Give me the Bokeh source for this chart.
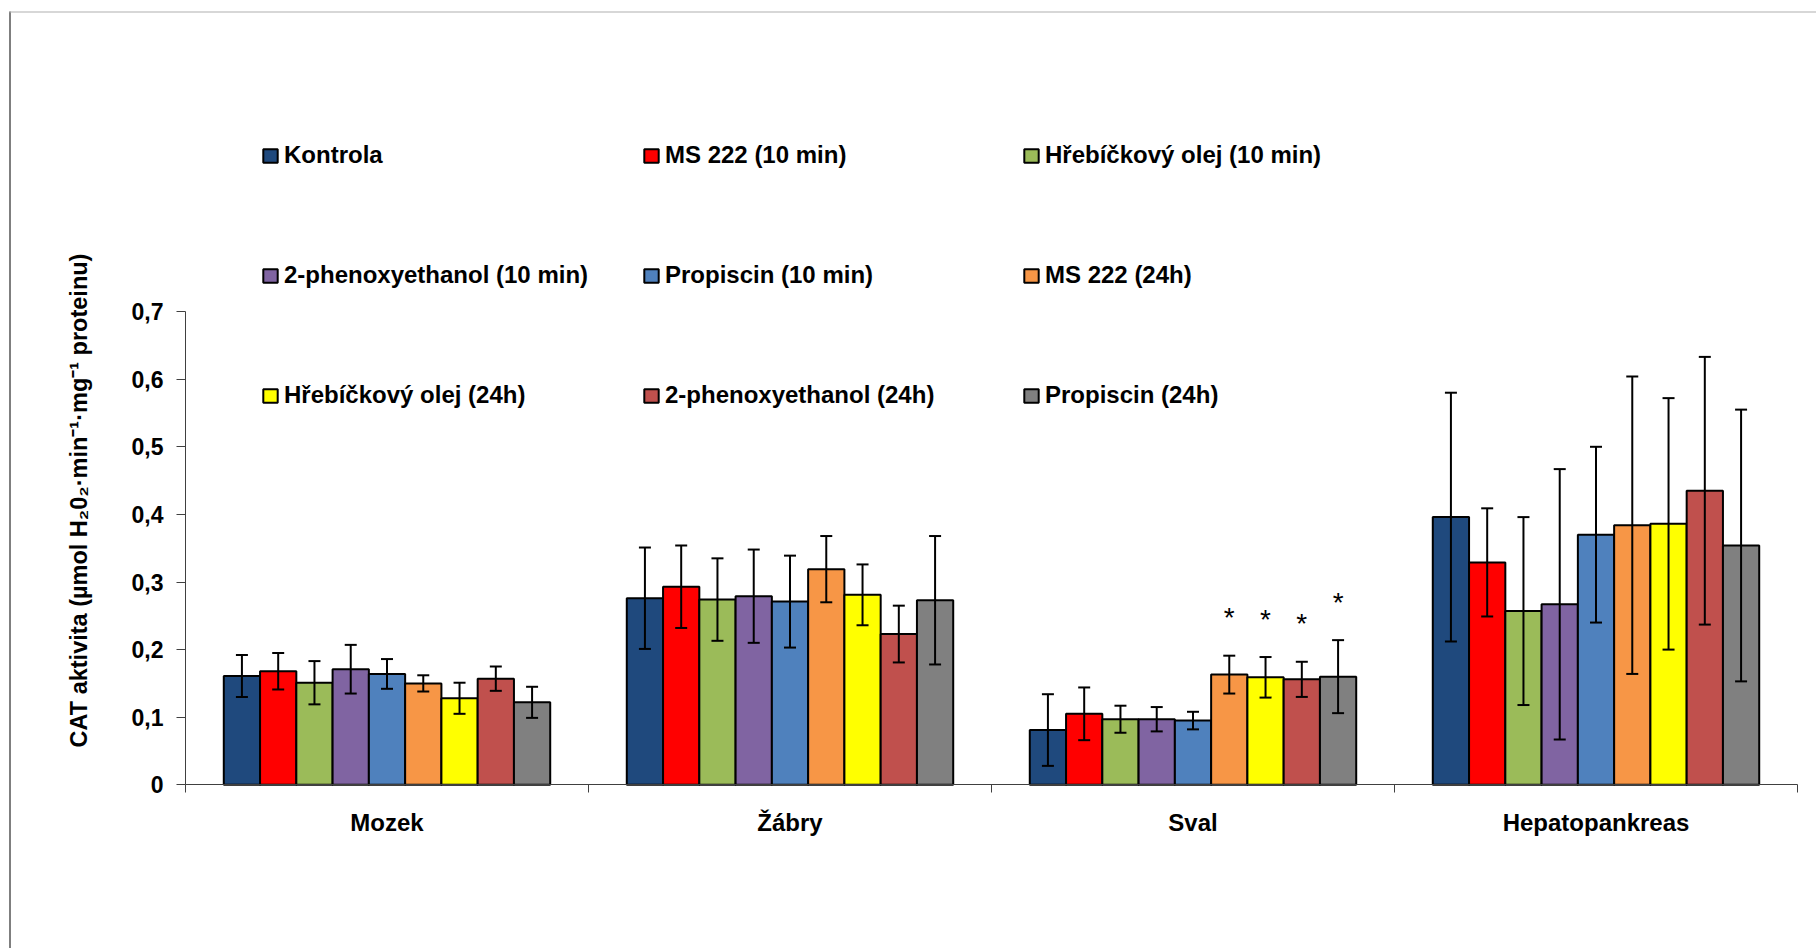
import math
from bokeh.plotting import figure
from bokeh.models import (ColumnDataSource, Range1d, FixedTicker, Whisker, TeeHead,
                          Legend, LegendItem, Label, BoxAnnotation)
from bokeh.transform import dodge
from bokeh.core.properties import value
from bokeh.embed import file_html
from bokeh.resources import INLINE

# ---------------- data ----------------
categories = ["Mozek", "Žábry", "Sval", "Hepatopankreas"]
series_names = ["Kontrola", "MS 222 (10 min)", "Hřebíčkový olej (10 min)",
                "2-phenoxyethanol (10 min)", "Propiscin (10 min)", "MS 222 (24h)",
                "Hřebíčkový olej (24h)", "2-phenoxyethanol (24h)", "Propiscin (24h)"]
series_colors = ["#1F497D", "#FF0000", "#9BBB59", "#8064A2", "#4F81BD",
                 "#F79646", "#FFFF00", "#C0504D", "#808080"]

kontrola = [0.161, 0.276, 0.081, 0.396]
ms222_10 = [0.168, 0.293, 0.105, 0.329]
hreb_10 = [0.151, 0.274, 0.097, 0.257]
phen_10 = [0.171, 0.279, 0.097, 0.267]
prop_10 = [0.164, 0.271, 0.095, 0.370]
ms222_24 = [0.150, 0.319, 0.163, 0.384]
hreb_24 = [0.128, 0.281, 0.159, 0.386]
phen_24 = [0.157, 0.223, 0.156, 0.435]
prop_24 = [0.122, 0.273, 0.160, 0.354]

kontrola_err = [0.031, 0.075, 0.053, 0.184]
ms222_10_err = [0.027, 0.061, 0.039, 0.080]
hreb_10_err = [0.032, 0.061, 0.020, 0.139]
phen_10_err = [0.036, 0.069, 0.018, 0.200]
prop_10_err = [0.022, 0.068, 0.013, 0.130]
ms222_24_err = [0.012, 0.049, 0.028, 0.220]
hreb_24_err = [0.023, 0.045, 0.030, 0.186]
phen_24_err = [0.018, 0.042, 0.026, 0.198]
prop_24_err = [0.023, 0.095, 0.054, 0.201]

# significance marks (per series) for category "Sval"
sval_marks = ["", "", "", "", "", "*", "*", "*", "*"]

y_ticks = [0, 0.1, 0.2, 0.3, 0.4, 0.5, 0.6, 0.7]
y_tick_labels = ["0", "0,1", "0,2", "0,3", "0,4", "0,5", "0,6", "0,7"]
y_title = "CAT aktivita (µmol H₂0₂·min⁻¹·mg⁻¹ proteinu)"

means = [kontrola, ms222_10, hreb_10, phen_10, prop_10, ms222_24, hreb_24, phen_24, prop_24]
errs = [kontrola_err, ms222_10_err, hreb_10_err, phen_10_err, prop_10_err,
        ms222_24_err, hreb_24_err, phen_24_err, prop_24_err]

# ---------------- figure ----------------
# The plot frame covers the whole canvas; the axes sit at fixed locations
# so that legend, title and chart border can be drawn anywhere on the chart.
W, H = 1816, 948
AX_LEFT, AX_RIGHT = 185, 1797      # canvas px of x = 0 and x = 4
AX_BOTTOM, AX_TOP = 784.3, 311.1   # canvas px of y = 0 and y = 0.7
ncat = len(categories)
ppx = (AX_RIGHT - AX_LEFT) / ncat
ppy = (AX_BOTTOM - AX_TOP) / 0.7
x_range = Range1d(-AX_LEFT / ppx, ncat + (W - AX_RIGHT) / ppx)
y_range = Range1d(-(H - AX_BOTTOM) / ppy, AX_BOTTOM / ppy)

p = figure(width=W, height=H, output_backend="svg", toolbar_location=None,
           x_range=x_range, y_range=y_range,
           min_border_left=0, min_border_right=0, min_border_top=0,
           min_border_bottom=0)
p.outline_line_color = None
p.xgrid.visible = False
p.ygrid.visible = False
p.background_fill_color = "white"
p.border_fill_color = "white"

FONT = "Liberation Sans"

centers = [i + 0.5 for i in range(ncat)]
bar_w = 0.09
n = len(series_names)

renderers = []
for k in range(n):
    off = (k - (n - 1) / 2) * bar_w
    src = ColumnDataSource(dict(
        xc=centers, top=means[k],
        upper=[m + e for m, e in zip(means[k], errs[k])],
        lower=[m - e for m, e in zip(means[k], errs[k])],
    ))
    r = p.vbar(x=dodge("xc", off), top="top", bottom=0, width=bar_w, source=src,
               fill_color=series_colors[k], line_color="black", line_width=2)
    renderers.append(r)
    w = Whisker(base=dodge("xc", off), upper="upper", lower="lower", source=src,
                level="annotation", line_color="black", line_width=2,
                upper_head=TeeHead(size=12, line_color="black", line_width=2),
                lower_head=TeeHead(size=12, line_color="black", line_width=2))
    p.add_layout(w)

# significance asterisks above Sval error bars
sval_idx = categories.index("Sval")
sx, sy, st = [], [], []
for k in range(n):
    if sval_marks[k]:
        sx.append(centers[sval_idx] + (k - (n - 1) / 2) * bar_w)
        sy.append(means[k][sval_idx] + errs[k][sval_idx] + 0.056)
        st.append(sval_marks[k])
p.text(x=sx, y=sy, text=st, text_align="center", text_baseline="middle",
       text_font=value(FONT), text_font_size="28px", text_color="black")

# axes
xa = p.xaxis[0]
xa.fixed_location = 0
xa.bounds = (0, ncat)
xa.ticker = FixedTicker(ticks=centers, minor_ticks=list(range(ncat + 1)))
xa.major_label_overrides = {c: lab for c, lab in zip(centers, categories)}
xa.major_tick_out = 0
xa.major_tick_in = 0
xa.minor_tick_out = 8
xa.minor_tick_in = 0
xa.minor_tick_line_color = "#404040"
xa.axis_line_color = "#404040"
xa.major_label_text_font = FONT
xa.major_label_text_font_style = "bold"
xa.major_label_text_font_size = "24px"
xa.major_label_text_color = "black"
xa.major_label_standoff = 16

ya = p.yaxis[0]
ya.fixed_location = 0
ya.bounds = (0, 0.7)
ya.ticker = FixedTicker(ticks=y_ticks, minor_ticks=[])
ya.major_label_overrides = {t: lab for t, lab in zip(y_ticks, y_tick_labels)}
ya.major_tick_out = 9
ya.major_tick_in = 0
ya.major_tick_line_color = "#404040"
ya.axis_line_color = "#404040"
ya.major_label_text_font = FONT
ya.major_label_text_font_style = "bold"
ya.major_label_text_font_size = "23px"
ya.major_label_text_color = "black"
ya.major_label_standoff = 13

# y title
p.add_layout(Label(x=78, y=H - 500, x_units="screen", y_units="screen", text=y_title,
                   angle=math.pi / 2, text_align="center", text_baseline="middle",
                   text_font=FONT, text_font_style="bold",
                   text_font_size="23.5px", text_color="black"))

# legend: 3 columns x 3 rows (row-major order)
col_x = [261, 642, 1022]
for c in range(3):
    items = [LegendItem(label=series_names[r * 3 + c], renderers=[renderers[r * 3 + c]])
             for r in range(3)]
    lg = Legend(items=items, location=(col_x[c], H - 415), orientation="vertical",
                glyph_width=18, glyph_height=17, label_height=40, spacing=80,
                label_standoff=5, padding=0, margin=0, border_line_color=None,
                background_fill_alpha=0, label_text_font=FONT,
                label_text_font_style="bold", label_text_font_size="24px",
                label_text_color="black")
    p.add_layout(lg, "center")

# outer chart border (top grey, left black)
p.add_layout(BoxAnnotation(left=9, right=10, bottom=-10, top=H - 11,
                           left_units="screen", right_units="screen",
                           bottom_units="screen", top_units="screen",
                           fill_color="black", fill_alpha=1, line_alpha=0))
p.add_layout(BoxAnnotation(left=9, right=W + 10, bottom=H - 12, top=H - 11,
                           left_units="screen", right_units="screen",
                           bottom_units="screen", top_units="screen",
                           fill_color="#b0b0b0", fill_alpha=1, line_alpha=0))

open("out.html", "w").write(file_html(p, INLINE))
